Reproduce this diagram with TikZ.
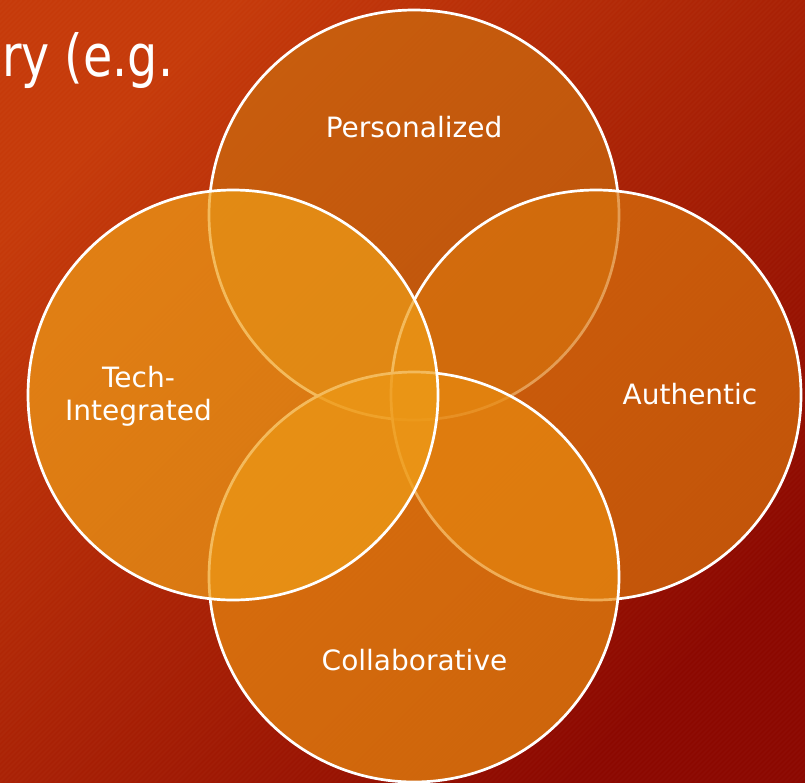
\documentclass[tikz,border=0pt]{standalone}
\usepackage{fontspec}
\setmainfont{DejaVu Sans}
\newfontfamily\headingfont[FakeStretch=0.82]{DejaVu Sans}
\definecolor{bgLight}{RGB}{198,58,10}
\definecolor{bgDark}{RGB}{140,8,0}
\definecolor{cTop}{RGB}{203,109,15}
\definecolor{cRight}{RGB}{217,116,13}
\definecolor{cBottom}{RGB}{233,139,16}
\definecolor{cLeft}{RGB}{239,158,24}
\tikzset{
  venn/.style={circle, inner sep=0pt, minimum size=410pt, draw=white,
    line width=2.7pt, fill opacity=0.7},
  vennlabel/.style={text=white, inner sep=0pt, anchor=base,
    font=\fontsize{28}{33}\selectfont, align=center},
}
\begin{document}
\begin{tikzpicture}[x=1pt,y=-1pt]
\useasboundingbox (0,0) rectangle (805,782);
% slide background: diagonal gradient with fine stripes
\fill[top color=bgLight, bottom color=bgDark, shading angle=45] (0,0) rectangle (805,782);
\begin{scope}
  \clip (0,0) rectangle (805,782);
  \foreach \i in {-800,-795,...,805}
    \draw[white, opacity=0.025, line width=1.5pt] (\i,782) -- (\i+782,0);
\end{scope}
% title fragment
\node[anchor=base west, text=white, inner sep=0pt,
  font=\headingfont\fontsize{58}{64}\selectfont] (title) at (2,76) {ry (e.g.};
% four overlapping circles
\node[venn, fill=cTop]    (personalized)  at (414,215) {};
\node[venn, fill=cRight]  (authentic)     at (596,395) {};
\node[venn, fill=cBottom] (collaborative) at (414,577) {};
\node[venn, fill=cLeft]   (tech)          at (233,395) {};
% labels
\node[vennlabel] (lblP) at (414,137) {Personalized};
\node[vennlabel] (lblA) at (690,404) {Authentic};
\node[vennlabel] (lblC) at (414.5,670) {Collaborative};
\node[vennlabel] (lblT1) at (138.5,387) {Tech-};
\node[vennlabel] (lblT2) at (138.5,420) {Integrated};
\end{tikzpicture}
\end{document}
